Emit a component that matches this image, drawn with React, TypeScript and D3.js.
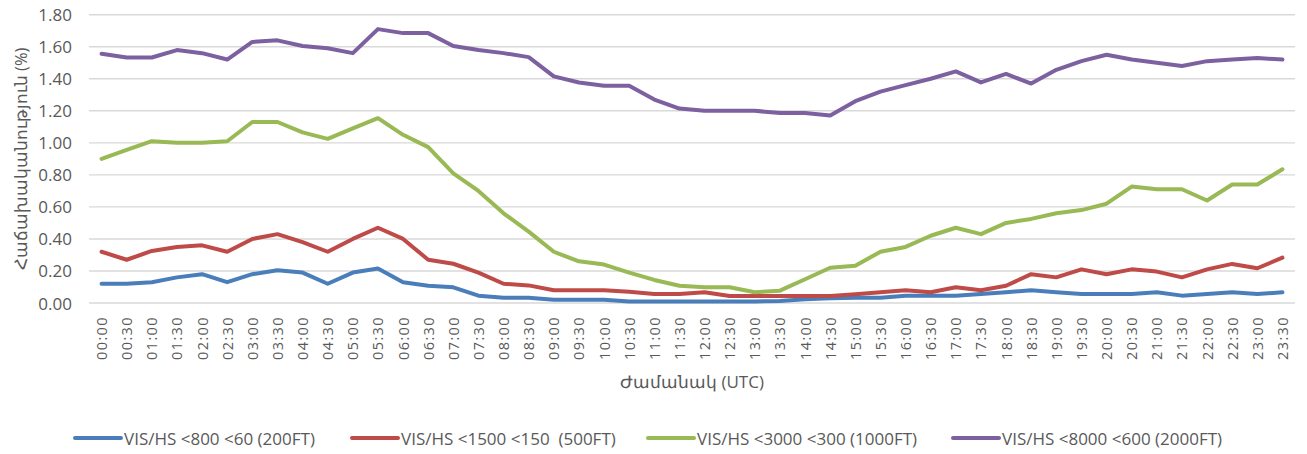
import React from "react";
import * as d3 from "d3";

const times: string[] = [
  "00:00","00:30","01:00","01:30","02:00","02:30","03:00","03:30","04:00","04:30","05:00","05:30",
  "06:00","06:30","07:00","07:30","08:00","08:30","09:00","09:30","10:00","10:30","11:00","11:30",
  "12:00","12:30","13:00","13:30","14:00","14:30","15:00","15:30","16:00","16:30","17:00","17:30",
  "18:00","18:30","19:00","19:30","20:00","20:30","21:00","21:30","22:00","22:30","23:00","23:30",
];

const vis800: number[] = [
  0.12,0.12,0.13,0.16,0.18,0.13,0.18,0.205,0.19,0.12,0.19,0.215,
  0.13,0.108,0.098,0.046,0.033,0.033,0.02,0.02,0.02,0.01,0.01,0.01,
  0.01,0.01,0.01,0.013,0.023,0.03,0.033,0.033,0.046,0.046,0.046,0.056,
  0.067,0.08,0.067,0.056,0.056,0.056,0.067,0.046,0.056,0.067,0.056,0.067,
];

const vis1500: number[] = [
  0.32,0.27,0.325,0.35,0.36,0.32,0.40,0.43,0.38,0.32,0.40,0.47,
  0.40,0.27,0.245,0.19,0.12,0.11,0.08,0.08,0.08,0.07,0.056,0.056,
  0.067,0.044,0.044,0.044,0.044,0.044,0.055,0.067,0.08,0.067,0.098,0.08,
  0.108,0.18,0.16,0.21,0.18,0.21,0.196,0.16,0.21,0.244,0.217,0.283,
];

const vis3000: number[] = [
  0.90,0.956,1.01,1.00,1.00,1.01,1.13,1.13,1.065,1.025,1.09,1.154,
  1.05,0.973,0.81,0.70,0.56,0.446,0.32,0.26,0.24,0.19,0.144,0.108,
  0.098,0.098,0.067,0.077,0.148,0.22,0.233,0.32,0.35,0.42,0.47,0.43,
  0.50,0.525,0.56,0.58,0.62,0.727,0.71,0.71,0.64,0.74,0.74,0.835,
];

const vis8000: number[] = [
  1.556,1.533,1.533,1.579,1.56,1.52,1.63,1.64,1.605,1.59,1.56,1.71,
  1.685,1.685,1.605,1.58,1.56,1.535,1.415,1.377,1.356,1.356,1.27,1.214,
  1.20,1.20,1.20,1.186,1.186,1.17,1.26,1.32,1.36,1.40,1.446,1.377,
  1.43,1.37,1.456,1.51,1.55,1.52,1.50,1.48,1.51,1.52,1.53,1.52,
];

const seriesNames: string[] = [
  "VIS/HS <800 <60 (200FT)",
  "VIS/HS <1500 <150  (500FT)",
  "VIS/HS <3000 <300 (1000FT)",
  "VIS/HS <8000 <600 (2000FT)",
];
const seriesColors: string[] = ["#4A7EBB", "#BE4B48", "#98B954", "#7D60A0"];
const seriesValues: number[][] = [vis800, vis1500, vis3000, vis8000];

const yTicks: number[] = [0, 0.2, 0.4, 0.6, 0.8, 1.0, 1.2, 1.4, 1.6, 1.8];

const yTitle = "Հաճախականություն (%)";
const xTitle = "Ժամանակ (UTC)";

const W = 1307;
const H = 454;
const plotLeft = 89;
const plotRight = 1295;
const plotTop = 14.7;
const plotBottom = 303;
const textColor = "#595959";
const font = "'Open Sans', sans-serif";

const legendLineX = [75, 352, 648, 953];

export default function App() {
  const x = d3.scaleBand<string>().domain(times).range([plotLeft, plotRight]);
  const y = d3.scaleLinear().domain([0, 1.8]).range([plotBottom, plotTop]);
  const line = d3
    .line<number>()
    .x((_, i) => (x(times[i]) as number) + x.bandwidth() / 2)
    .y((v) => y(v));

  return (
    <svg
      width={W}
      height={H}
      style={{ position: "absolute", left: 0, top: 0, background: "#fff" }}
      fontFamily={font}
    >
      <rect x={0} y={0} width={W} height={H} fill="#fff" />
      {yTicks.map((t) => (
        <g key={t}>
          <line
            x1={plotLeft}
            x2={plotRight}
            y1={y(t)}
            y2={y(t)}
            stroke="#D9D9D9"
            strokeWidth={1.4}
          />
          <text
            x={72}
            y={y(t)}
            textAnchor="end"
            dominantBaseline="central"
            fontSize={17}
            fill={textColor}
          >
            {t.toFixed(2)}
          </text>
        </g>
      ))}
      {times.map((t) => (
        <text
          key={t}
          transform={`translate(${(x(t) as number) + x.bandwidth() / 2},316) rotate(-90)`}
          textAnchor="end"
          dominantBaseline="central"
          fontSize={14.5}
          letterSpacing={1.4}
          fill={textColor}
        >
          {t}
        </text>
      ))}
      {seriesValues.map((vals, si) => (
        <path
          key={si}
          d={line(vals) as string}
          fill="none"
          stroke={seriesColors[si]}
          strokeWidth={4}
          strokeLinejoin="round"
          strokeLinecap="round"
        />
      ))}
      <text
        x={(plotLeft + plotRight) / 2}
        y={381}
        textAnchor="middle"
        dominantBaseline="central"
        fontSize={17}
        fill={textColor}
      >
        {xTitle}
      </text>
      <text
        transform={`translate(20,${(plotTop + plotBottom) / 2}) rotate(-90)`}
        textAnchor="middle"
        dominantBaseline="central"
        fontSize={16.5}
        fill={textColor}
      >
        {yTitle}
      </text>
      {seriesNames.map((n, i) => (
        <g key={n}>
          <line
            x1={legendLineX[i]}
            x2={legendLineX[i] + 46}
            y1={438}
            y2={438}
            stroke={seriesColors[i]}
            strokeWidth={4}
            strokeLinecap="round"
          />
          <text
            x={legendLineX[i] + 49}
            y={438}
            dominantBaseline="central"
            fontSize={17}
            fill={textColor}
            style={{ whiteSpace: "pre" }}
          >
            {n}
          </text>
        </g>
      ))}
    </svg>
  );
}
